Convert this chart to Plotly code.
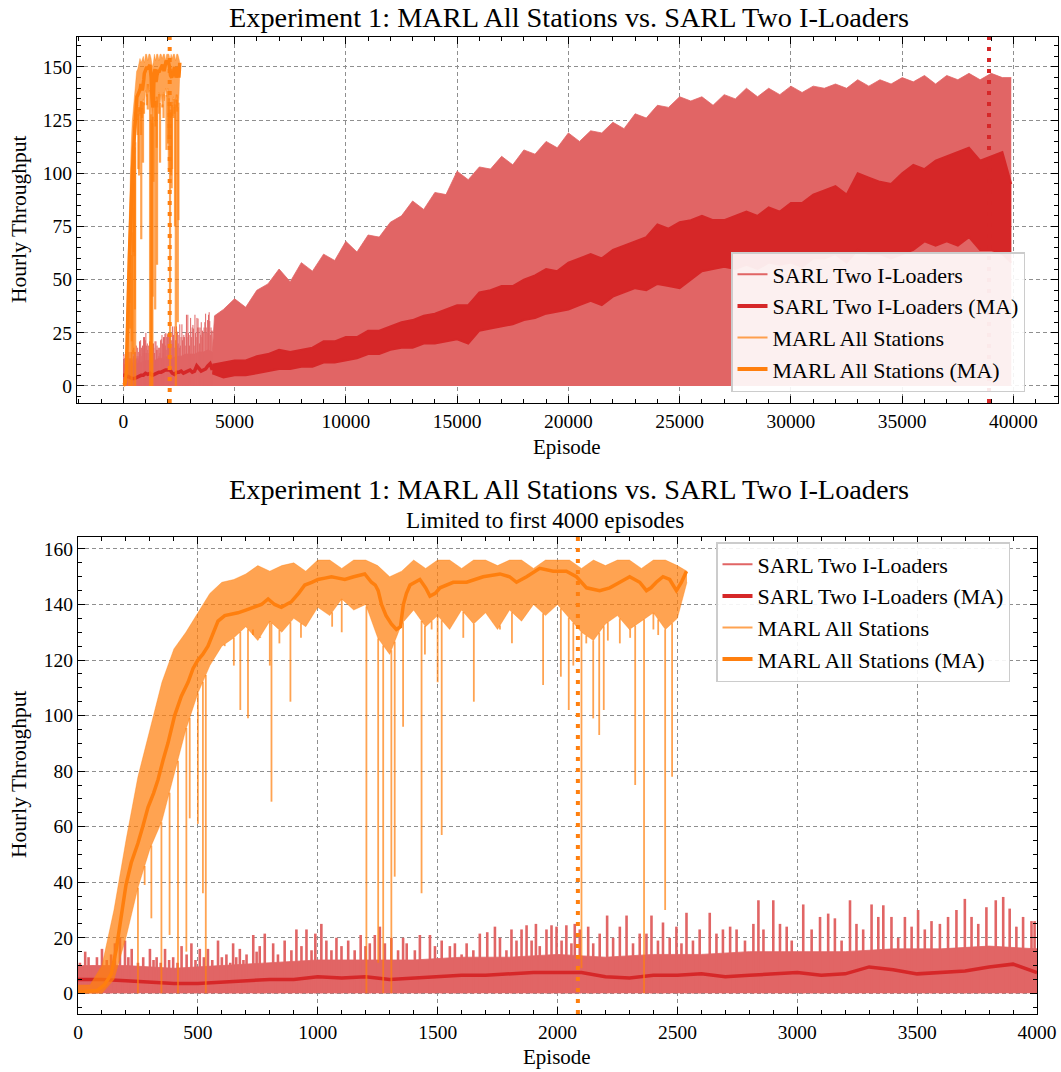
import numpy as np
import plotly.graph_objects as go

# ---------------- data ----------------
# SARL Two I-Loaders: dense raw band level for episodes 0-4000 (raw reaches 0 between peaks)
sarl_base_ep = list(range(0, 4001, 200))
sarl_base = [10, 10, 9, 10, 11, 12, 12, 12, 13, 13, 14, 13, 14, 14, 15, 15, 15, 16, 16, 17, 16]
# SARL Two I-Loaders: individual raw peaks for episodes 0-4000
sarl_peak_ep = [8, 30, 44, 62, 79, 100, 120, 138, 154, 175, 196, 210, 224, 250, 272, 300, 315, 328, 345, 363,
                380, 397, 415, 432, 453, 473, 490, 508, 525, 542, 560, 584, 600, 619, 635, 647, 660, 675, 690, 703,
                731, 745, 758, 779, 814, 834, 862, 890, 911, 932, 953, 974, 990, 1015, 1036, 1057, 1078, 1099, 1127, 1154,
                1179, 1199, 1217, 1238, 1259, 1280, 1307, 1335, 1356, 1371, 1405, 1426, 1468, 1489, 1517, 1551, 1572, 1600, 1621, 1649,
                1676, 1707, 1739, 1760, 1787, 1808, 1829, 1850, 1871, 1892, 1910, 1926, 1954, 1975, 1996, 2017, 2037, 2058, 2072, 2093,
                2128, 2149, 2176, 2207, 2232, 2260, 2288, 2315, 2343, 2371, 2392, 2419, 2440, 2468, 2496, 2517, 2538, 2565, 2593, 2635,
                2663, 2690, 2720, 2747, 2782, 2817, 2838, 2859, 2900, 2928, 2956, 2977, 3025, 3060, 3095, 3129, 3157, 3185, 3220, 3247,
                3275, 3310, 3338, 3359, 3393, 3421, 3449, 3477, 3504, 3532, 3560, 3595, 3629, 3664, 3699, 3727, 3755, 3789, 3828, 3859,
                3886, 3914, 3942, 3977, 3990]
sarl_peak = [11, 15, 13, 10, 13, 16, 12, 14, 18, 20, 19, 13, 16, 11, 13, 16, 12, 13, 11, 16,
             12, 13, 11, 17, 14, 18, 12, 16, 13, 16, 12, 19, 13, 14, 11, 18, 13, 16, 12, 14,
             21, 15, 17, 21.5, 18, 14, 19, 15.5, 23, 17, 23, 15.5, 21.5, 25, 19, 15.5, 20, 17, 19, 15.5,
             21, 17, 18, 21, 24, 18, 20, 15.5, 20, 18, 15.5, 21, 21, 17, 19, 17, 18, 14, 18, 15.5,
             21.5, 22, 24, 20, 15.5, 23, 19, 23, 24.5, 19, 25, 17, 23, 24.5, 24, 19, 24.5, 18, 25, 23,
             24, 18, 21.5, 28, 20, 24, 28, 18, 21.5, 21.5, 28, 19, 25.5, 20, 24, 18, 29, 19, 23, 29,
             21.5, 23, 24, 23, 19, 25, 33.5, 23, 33.5, 25, 24, 19, 32, 23, 27.5, 28.7, 27, 19, 33.5, 25,
             23, 32, 27.5, 31.7, 27.5, 20, 27.5, 24, 30, 23, 26, 25, 27.5, 30, 34, 27.5, 25, 31, 33.5, 34.7,
             30.5, 24, 27.5, 26, 26]
# SARL Two I-Loaders: raw upper envelope after 4000 episodes
sarl_coarse_ep = [4100] + list(range(4500, 39501, 500)) + [39900]
sarl_coarse_upper = [33, 36, 41, 37, 45, 48, 55, 49, 58, 54, 62, 59, 68, 63, 71, 70, 77, 80, 87, 83, 91,
                     90, 101, 97, 103, 102, 108, 104, 111, 109, 115, 112, 119, 115, 120, 119, 124, 121, 128, 126, 132,
                     131, 136, 134, 136, 132, 137, 135, 140, 136, 140, 137, 141, 138, 141, 140, 142, 140, 144, 141, 144,
                     142, 145, 143, 146, 142, 146, 144, 147, 144, 147, 145, 145]

# SARL Two I-Loaders: moving average (episodes 0-4000)
sarl_ma_fine_ep = list(range(0, 4001, 100))
sarl_ma_fine = [5, 5, 4.5, 4, 3.5, 3.5, 4, 4.5, 5, 5, 6, 5.5, 6, 5, 5.5, 6, 6.5, 6.5, 7, 7.5,
                7.5, 7.5, 6, 5.5, 6.5, 6.5, 7, 6, 6.5, 7, 7.5, 6.5, 7, 9.5, 8.5, 7, 7.5, 8, 9.5, 10.5,
                7.5]
# SARL Two I-Loaders: moving average after 4000 episodes (oscillating, low / high extent)
sarl_ma_coarse_ep = list(range(4000, 39501, 500)) + [39900]
sarl_ma_low = [6, 4, 5, 5, 6, 7, 8, 8, 9, 9, 11, 11, 12, 13, 15, 15, 17, 18, 18, 20,
               20, 21, 22, 20, 26, 27, 28, 29, 31, 32, 34, 35, 36, 38, 40, 38, 42, 44, 46, 45,
               48, 47, 46, 50, 54, 55, 56, 55, 57, 55, 58, 57, 58, 56, 60, 60, 62, 58, 64, 62,
               62, 60, 62, 64, 68, 66, 68, 66, 70, 64, 64, 62, 58]
sarl_ma_high = [10, 11, 12, 12, 14, 15, 17, 16, 17, 18, 21, 21, 23, 23, 26, 26, 28, 30, 31, 33,
                34, 36, 38, 38, 44, 45, 47, 47, 50, 52, 55, 54, 58, 60, 62, 60, 64, 66, 68, 70,
                76, 74, 77, 78, 80, 78, 78, 80, 82, 80, 84, 82, 86, 86, 90, 92, 94, 90, 100, 98,
                96, 95, 100, 104, 102, 106, 108, 110, 112, 106, 108, 110, 95]

# MARL All Stations: raw-throughput band (lower / upper envelope)
marl_env_ep = list(range(0, 2501, 50)) + [2540]
marl_lower = [0, 0, 0, 5, 20, 38, 52, 62, 78, 95, 108, 118, 125, 128, 132, 127, 134, 130, 135, 132,
              139, 136, 142, 138, 140, 128, 122, 133, 138, 132, 136, 131, 138, 133, 137, 131, 138, 134, 140, 136,
              140, 135, 130, 127, 133, 136, 131, 134, 137, 131, 135, 148]
marl_upper = [3, 3, 10, 30, 55, 78, 95, 112, 124, 130, 137, 144, 148, 149, 151, 154, 152, 154, 155, 152,
              156, 156, 153, 156, 156, 154, 150, 152, 156, 153, 156, 156, 153, 156, 156, 154, 156, 156, 153, 156,
              156, 156, 153, 156, 154, 156, 156, 153, 156, 156, 154, 152]
# MARL All Stations: isolated drops of the raw series
marl_dip_ep = [250, 278, 306, 348, 382, 417, 452, 466, 500, 521, 533, 612, 650, 677, 709, 730, 760, 800, 807,
               840, 886, 930, 1060, 1100, 1203, 1252, 1273, 1307, 1321, 1356, 1433, 1447, 1475, 1500, 1517,
               1607, 1651, 1760, 1810, 1940, 2014, 2047, 2066, 2100, 2120, 2149, 2174, 2193, 2210, 2260, 2303,
               2324, 2361, 2400, 2420, 2449, 2478]
marl_dip_val = [0, 39, 27, 0, 21, 0, 15, 63, 61, 36, 0, 125, 118, 102, 99, 131, 128, 118, 69,
                126, 105, 128, 132, 130, 0, 11, 0, 0, 42, 96, 36, 122, 131, 112, 57,
                128, 105, 131, 126, 111, 114, 102, 118, 9, 126, 99, 93, 102, 127, 126, 128,
                75, 0, 131, 129, 30, 78]
# MARL All Stations: moving average
marl_ma_ep = [0, 50, 80, 110, 139, 160, 181, 200, 222, 250, 270, 292, 315, 334, 355, 375, 403, 431, 459, 480,
              500, 520, 542, 565, 584, 612, 640, 667, 700, 737, 765, 793, 820, 848, 870, 890, 920, 946, 975, 1001,
              1030, 1057, 1085, 1113, 1150, 1196, 1224, 1240, 1252, 1266, 1285, 1307, 1328, 1345, 1357, 1370, 1385,
              1426, 1450, 1468, 1490, 1510, 1565, 1621, 1690, 1760, 1800, 1829, 1871, 1926, 1982, 2037, 2079, 2100,
              2121, 2176, 2218, 2260, 2301, 2343, 2371, 2390, 2412, 2440, 2468, 2496, 2517, 2538]
marl_ma = [0.5, 0.8, 1, 3, 7, 16, 29, 39, 47, 54, 60, 67, 72, 77, 84, 90, 100, 107, 112, 117,
           120, 122, 125, 130, 134, 136, 136.5, 137, 138, 139, 140, 142, 140, 139, 140, 141, 144, 147, 148, 149,
           149.5, 150, 149.5, 149, 150, 151, 148, 147, 145, 140, 136, 133, 131, 132, 140, 144, 147,
           149, 146, 143, 144, 146, 148, 148, 150, 151, 150, 148, 150, 153, 152, 152, 150, 148,
           146, 145, 146, 148, 150, 148, 145, 146, 148, 150, 149, 145, 148, 152]

# convergence markers (episode)
marl_conv_ep = 2085
sarl_conv_ep = 38900

series_names = ["SARL Two I-Loaders", "SARL Two I-Loaders (MA)", "MARL All Stations", "MARL All Stations (MA)"]
title_text = "Experiment 1: MARL All Stations vs. SARL Two I-Loaders"
subtitle_text = "Limited to first 4000 episodes"

# ---------------- styling ----------------
RED = "#d62728"
RED_RAW = "rgb(225,101,101)"
ORANGE = "#ff7f0e"
ORANGE_RAW = "rgba(255,127,14,0.72)"
FONT = "'Liberation Serif', 'Times New Roman', Times, 'DejaVu Serif', serif"

sarl_band_ep = sarl_base_ep + sarl_coarse_ep
sarl_band = sarl_base + sarl_coarse_upper

peak_x, peak_y = [], []
for e, v in zip(sarl_peak_ep, sarl_peak):
    peak_x += [e, e, None]
    peak_y += [0, v, None]

# vertical segments for MARL drops
dip_top = np.interp(marl_dip_ep, marl_env_ep, marl_lower)
dip_x, dip_y = [], []
for e, v, t in zip(marl_dip_ep, marl_dip_val, dip_top):
    dip_x += [e, e, None]
    dip_y += [t, v, None]

fig = go.Figure()


def add_panel(xa, ya, lg, dip_w, peak_w, full):
    # SARL raw band + peaks
    fig.add_trace(go.Scatter(x=sarl_band_ep, y=sarl_band, mode="lines", fill="tozeroy",
                             fillcolor=RED_RAW, line=dict(color=RED_RAW, width=0.8),
                             xaxis=xa, yaxis=ya, showlegend=False, hoverinfo="skip"))
    fig.add_trace(go.Scatter(x=peak_x, y=peak_y, mode="lines",
                             line=dict(color=RED_RAW, width=peak_w),
                             xaxis=xa, yaxis=ya, showlegend=False, hoverinfo="skip"))
    # SARL MA
    fig.add_trace(go.Scatter(x=sarl_ma_fine_ep, y=sarl_ma_fine, mode="lines",
                             line=dict(color=RED, width=3.5),
                             xaxis=xa, yaxis=ya, showlegend=False))
    if full:
        fig.add_trace(go.Scatter(x=sarl_ma_coarse_ep, y=sarl_ma_low, mode="lines",
                                 line=dict(color=RED, width=2),
                                 xaxis=xa, yaxis=ya, showlegend=False, hoverinfo="skip"))
        fig.add_trace(go.Scatter(x=sarl_ma_coarse_ep, y=sarl_ma_high, mode="lines", fill="tonexty",
                                 fillcolor=RED, line=dict(color=RED, width=2),
                                 xaxis=xa, yaxis=ya, showlegend=False, hoverinfo="skip"))
    # MARL raw band
    fig.add_trace(go.Scatter(x=marl_env_ep, y=marl_lower, mode="lines",
                             line=dict(color=ORANGE_RAW, width=0.5),
                             xaxis=xa, yaxis=ya, showlegend=False, hoverinfo="skip"))
    fig.add_trace(go.Scatter(x=marl_env_ep, y=marl_upper, mode="lines", fill="tonexty",
                             fillcolor=ORANGE_RAW, line=dict(color=ORANGE_RAW, width=0.5),
                             xaxis=xa, yaxis=ya, showlegend=False, hoverinfo="skip"))
    fig.add_trace(go.Scatter(x=dip_x, y=dip_y, mode="lines",
                             line=dict(color=ORANGE_RAW, width=dip_w),
                             xaxis=xa, yaxis=ya, showlegend=False, hoverinfo="skip"))
    # MARL MA
    fig.add_trace(go.Scatter(x=marl_ma_ep, y=marl_ma, mode="lines",
                             line=dict(color=ORANGE, width=3.5),
                             xaxis=xa, yaxis=ya, showlegend=False))
    # legend entries
    styles = [(RED_RAW, 2), (RED, 4), (ORANGE_RAW, 2), (ORANGE, 4)]
    for i, (nm, (c, w)) in enumerate(zip(series_names, styles)):
        fig.add_trace(go.Scatter(x=[None], y=[None], mode="lines", name=nm,
                                 line=dict(color=c, width=w), xaxis=xa, yaxis=ya,
                                 legend=lg, legendgroup=f"{lg}{i}", showlegend=True))


add_panel("x", "y", "legend", 2.2, 1.0, True)
add_panel("x2", "y2", "legend2", 1.8, 2.6, False)

W, H = 1061, 1072


def px_x(p):
    return p / W


def px_y(p):
    return 1 - p / H


axis_common = dict(showline=True, linecolor="black", linewidth=1.3, mirror="allticks",
                   ticks="inside", ticklen=7, tickwidth=1.1, tickcolor="black",
                   showgrid=True, gridcolor="#8f8f8f", gridwidth=0.9, griddash="4px,3px",
                   zeroline=False, automargin=False,
                   tickfont=dict(family=FONT, size=19.5, color="black"))

legend_common = dict(bgcolor="rgba(255,255,255,0.9)", bordercolor="#cccccc", borderwidth=1.5,
                     font=dict(family=FONT, size=22, color="black"), traceorder="grouped",
                     tracegroupgap=0, xanchor="left", yanchor="top")

fig.update_layout(
    width=W, height=H, autosize=False,
    margin=dict(l=0, r=0, t=0, b=0, pad=0, autoexpand=False),
    paper_bgcolor="white", plot_bgcolor="white",
    font=dict(family=FONT, color="black"),
    xaxis=dict(domain=[px_x(77), px_x(1058)], anchor="y", range=[-2080, 42000],
               dtick=5000, tick0=0, tickformat="d",
               minor=dict(dtick=1000, tick0=0, ticks="inside", ticklen=4, tickcolor="black", showgrid=False),
               **axis_common),
    yaxis=dict(domain=[px_y(403), px_y(37)], anchor="x", range=[-8.0, 164.1],
               dtick=25, tick0=0,
               minor=dict(dtick=5, tick0=0, ticks="inside", ticklen=4, tickcolor="black", showgrid=False),
               **axis_common),
    xaxis2=dict(domain=[px_x(78), px_x(1037)], anchor="y2", range=[0, 4000],
                dtick=500, tick0=0, tickformat="d",
                minor=dict(dtick=100, tick0=0, ticks="inside", ticklen=4, tickcolor="black", showgrid=False),
                **axis_common),
    yaxis2=dict(domain=[px_y(1014), px_y(537)], anchor="x2", range=[-7.45, 164.3],
                dtick=20, tick0=0,
                minor=dict(dtick=5, tick0=0, ticks="inside", ticklen=4, tickcolor="black", showgrid=False),
                **axis_common),
    legend=dict(x=px_x(731), y=px_y(252), **legend_common),
    legend2=dict(x=px_x(716), y=px_y(542), **legend_common),
)

# convergence lines
dash = "4px,7px"
fig.add_shape(type="line", xref="x", yref="y domain", x0=marl_conv_ep, x1=marl_conv_ep, y0=0, y1=1,
              line=dict(color=ORANGE, width=4, dash=dash))
fig.add_shape(type="line", xref="x", yref="y domain", x0=sarl_conv_ep, x1=sarl_conv_ep, y0=0, y1=1,
              line=dict(color=RED, width=4, dash=dash))
fig.add_shape(type="line", xref="x2", yref="y2 domain", x0=marl_conv_ep, x1=marl_conv_ep, y0=0, y1=1,
              line=dict(color=ORANGE, width=4, dash=dash))

# titles and axis labels
ann = [
    dict(text=title_text, x=px_x(569), y=px_y(18), size=28.3),
    dict(text=title_text, x=px_x(569), y=px_y(489), size=28.3),
    dict(text=subtitle_text, x=px_x(545), y=px_y(520), size=23.2),
    dict(text="Episode", x=px_x(567), y=px_y(447), size=21),
    dict(text="Episode", x=px_x(557), y=px_y(1057), size=21),
]
for a in ann:
    fig.add_annotation(text=a["text"], x=a["x"], y=a["y"], xref="paper", yref="paper",
                       xanchor="center", yanchor="middle", showarrow=False,
                       font=dict(family=FONT, size=a["size"], color="black"))
for yc in (220, 775):
    fig.add_annotation(text="Hourly Throughput", x=px_x(19), y=px_y(yc), xref="paper", yref="paper",
                       xanchor="center", yanchor="middle", showarrow=False, textangle=-90,
                       font=dict(family=FONT, size=21.5, color="black"))

fig.write_html("out.html")
